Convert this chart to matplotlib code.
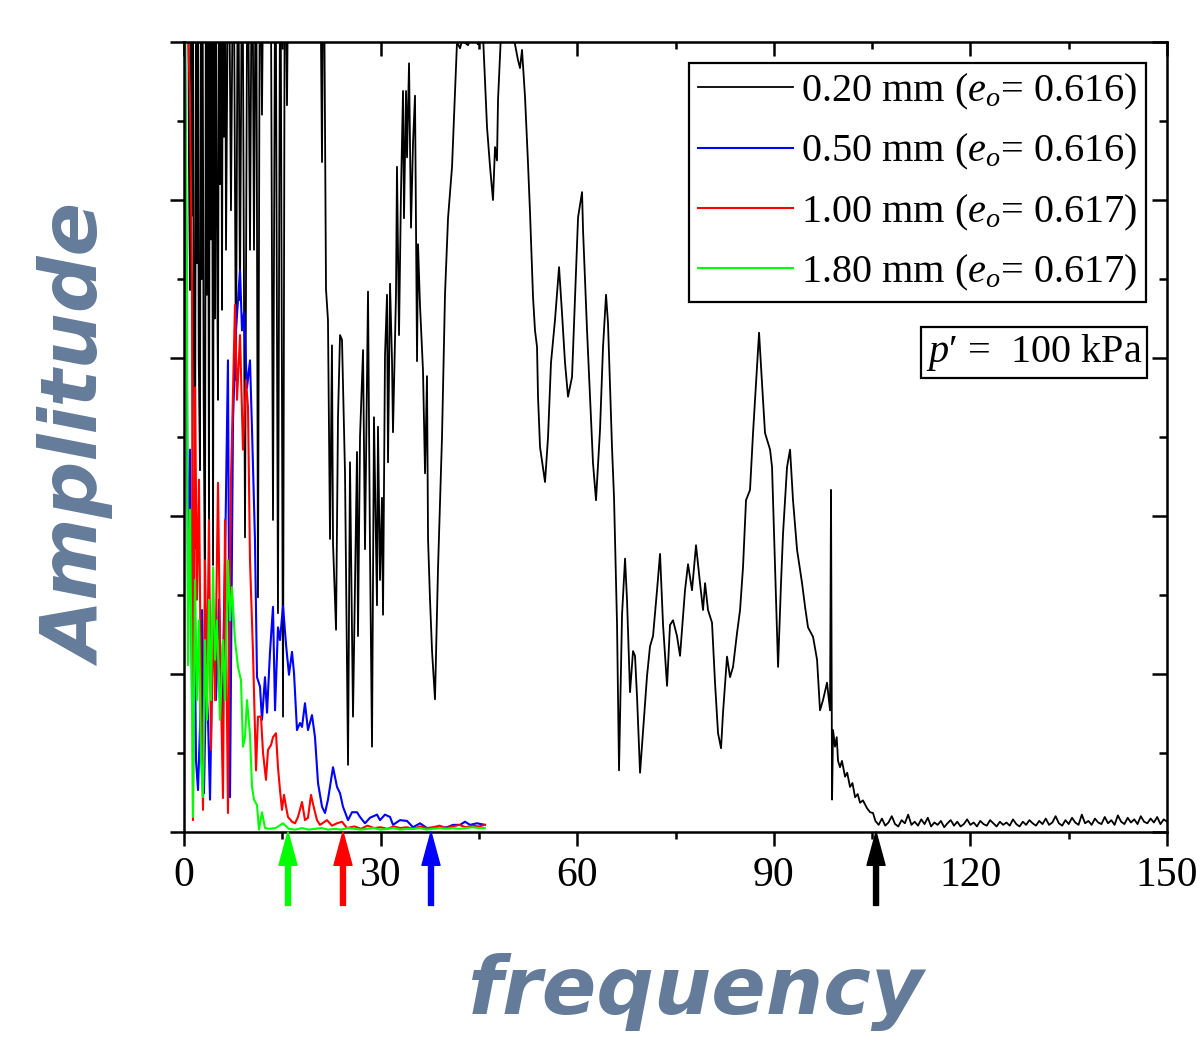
import numpy as np
import matplotlib
matplotlib.use("Agg")
import matplotlib.pyplot as plt
from matplotlib.ticker import MultipleLocator

plt.rcParams['font.family'] = ['Liberation Serif', 'DejaVu Serif']
plt.rcParams['mathtext.fontset'] = 'custom'
plt.rcParams['mathtext.rm'] = 'Liberation Serif'
plt.rcParams['mathtext.it'] = 'Liberation Serif:italic'

# ---- data (frequency in Hz, amplitude in arbitrary units, top of axis = 10) ----
TOP = 12  # spikes that leave the plot

f_black = [0.6, 0.75, 0.92, 1.1, 1.2, 1.3, 1.5, 1.68, 1.85, 2.0, 2.1, 2.25, 2.44, 2.6, 2.7, 2.8,
           3.0, 3.20, 3.35, 3.5, 3.65, 3.81, 3.95, 4.1, 4.25, 4.43, 4.6, 4.7, 4.8, 5.0, 5.19,
           5.35, 5.5, 5.65, 5.80, 5.95, 6.1, 6.25, 6.41, 6.8, 7.17, 7.55, 7.93, 8.25, 8.54, 8.9,
           9.31, 9.7, 10.07, 10.4, 10.68, 11.0,
           11.29, 11.6, 11.90, 12.2, 13.2, 13.58, 13.95, 14.34, 14.7, 15.11, 15.4, 15.72, 16.0,
           20.7, 21.06, 21.29, 21.67, 21.97, 22.28, 22.58, 22.74, 23.20, 23.50, 23.81, 24.11, 24.57,
           25.03, 25.33, 25.79, 26.40, 26.55, 26.86, 27.32, 27.62, 28.08, 28.38, 28.69, 28.99, 29.45,
           29.60, 29.91, 30.21, 30.37, 30.67, 30.98, 31.13, 31.44, 31.74, 31.89, 32.35, 32.50, 32.81,
           33.11, 33.42, 33.57, 33.88, 34.03, 34.34, 34.64, 34.95, 35.25, 35.56, 35.71, 36.01, 36.47,
           36.78, 37.08, 37.24, 37.54, 37.85, 38.30, 38.76, 39.37, 39.83, 40.29, 40.90, 41.36, 41.66,
           42.12, 42.42, 43.34, 43.95, 44.86, 45.63, 46.24, 46.70, 47.15, 47.46, 47.76, 47.92, 48.37,
           49.75, 50.97, 51.27, 51.58, 52.04, 52.49, 52.80, 53.26, 53.56, 53.87, 54.02, 54.33, 55.09,
           55.55, 56.00, 56.61, 57.23, 57.68, 58.14, 58.60, 59.21, 59.67, 60.13, 60.74, 60.89, 61.50,
           61.96, 62.41, 62.87, 63.48, 63.94, 64.40, 64.70, 65.31, 65.62, 66.08, 66.38, 66.84, 67.30,
           67.60, 68.06, 68.52, 68.82, 69.13, 69.59, 70.04, 70.65, 71.11, 71.57, 72.18, 72.64, 73.10,
           73.71, 74.16, 74.62, 75.23, 75.69, 76.45, 76.91, 77.52, 78.13, 78.74, 79.20, 79.51, 79.96,
           80.57, 81.03, 81.49, 81.95, 82.25, 82.86, 83.32, 83.78, 84.39, 84.85, 85.30, 85.76, 86.37,
           86.83, 87.29, 87.75, 88.20, 88.66, 89.43, 89.73, 90.19, 90.65, 91.10, 91.41, 92.02, 92.48,
           92.93, 93.55, 94.31, 94.77, 95.22, 95.99, 96.60, 97.05, 97.51, 98.12, 98.58, 98.73, 98.89,
           99.04, 99.34, 99.6, 99.8, 100.1, 100.4, 100.87, 101.2, 101.63, 102.0, 102.4, 102.8, 103.16,
           103.6, 104.23, 104.7, 105.14]
a_black = [TOP, 8.5, 6.86, TOP, 7.8, TOP, 6.5, 3.59, TOP, 7.2, TOP, 6.0, 4.58, TOP, 7.0, TOP,
           5.5, 2.81, TOP, 6.8, TOP, 3.70, TOP, 7.5, TOP, 3.38, TOP, 6.5, TOP, 8.0, 5.47,
           TOP, 8.2, TOP, 6.61, TOP, 8.8, TOP, 7.37, TOP, 7.87, TOP, 5.72, TOP, 6.73, TOP,
           3.73, TOP, 7.37, TOP, 7.37, TOP,
           2.97, TOP, 9.08, TOP, TOP, 3.95, TOP, 2.77, TOP, 1.46, TOP, 9.20, TOP,
           TOP, 8.48, TOP, 6.87, 6.48, 3.71, 6.16, 3.65, 2.56, 5.25, 6.29, 6.23, 4.54,
           0.85, 4.68, 1.46, 4.81, 2.48, 5.00, 6.10, 3.58, 6.84, 3.58, 1.08, 5.25, 2.87,
           5.13, 3.19, 4.23, 2.75, 6.03, 6.80, 4.68, 6.94, 5.97, 5.06, 6.81, 8.42, 6.29,
           8.09, 9.38, 7.77, 9.38, 8.54, 9.73, 7.65, 8.73, 9.32, 5.96, 7.44, 6.67, 5.84,
           4.54, 5.77, 3.71, 2.94, 2.29, 1.68, 3.33, 5.00, 6.81, 7.77, 8.42, 9.38, 10.0,
           9.92, 10.02, 9.96, 10.1, 9.97, 10.08, 8.92, 8.42, 8.00, 8.67, 8.50, 9.27, 10.1,
           10.3, 9.77, 9.67, 9.90, 9.30, 8.47, 7.84, 6.77, 6.35, 6.14, 5.51, 4.87, 4.43,
           5.00, 5.94, 6.48, 7.15, 6.57, 5.94, 5.51, 5.76, 6.77, 7.78, 8.10, 7.62, 6.35,
           5.51, 4.67, 4.20, 5.09, 6.14, 6.80, 6.44, 4.87, 4.23, 2.62, 0.78, 2.75, 3.46,
           2.94, 1.77, 2.29, 2.23, 1.71, 0.75, 1.27, 1.97, 2.35, 2.48, 3.06, 3.52, 2.62,
           1.85, 2.62, 2.68, 2.48, 2.23, 3.06, 3.39, 3.06, 3.63, 3.15, 2.81, 3.15, 2.81,
           2.65, 1.89, 1.25, 1.06, 1.51, 2.22, 1.96, 2.09, 2.52, 2.81, 3.35, 4.20, 4.33,
           5.05, 5.68, 6.32, 5.68, 5.05, 4.84, 4.62, 3.35, 2.09, 3.15, 3.78, 4.62, 4.84,
           4.20, 3.57, 3.15, 2.85, 2.59, 2.47, 2.18, 1.54, 1.67, 1.89, 1.54, 4.33, 0.41,
           1.29, 1.08, 1.20, 0.90, 0.82, 0.90, 0.70, 0.75, 0.57, 0.62, 0.44, 0.48, 0.37,
           0.40, 0.30, 0.25, 0.24]

f_floor_black = np.arange(105.5, 150.01, 0.5)
a_floor_black = [0.14, 0.09, 0.17, 0.08, 0.12, 0.20, 0.10, 0.07, 0.15, 0.11,
                 0.22, 0.09, 0.13, 0.08, 0.16, 0.10, 0.18, 0.07, 0.12, 0.09,
                 0.14, 0.06, 0.11, 0.15, 0.08, 0.13, 0.07, 0.10, 0.16, 0.09,
                 0.12, 0.07, 0.14, 0.10, 0.08, 0.15, 0.11, 0.07, 0.13, 0.09,
                 0.12, 0.08, 0.16, 0.10, 0.07, 0.13, 0.09, 0.15, 0.11, 0.08,
                 0.14, 0.10, 0.17, 0.09, 0.12, 0.20, 0.11, 0.08, 0.15, 0.10,
                 0.18, 0.12, 0.09, 0.22, 0.11, 0.14, 0.09, 0.17, 0.12, 0.10,
                 0.19, 0.11, 0.15, 0.09, 0.21, 0.13, 0.10, 0.18, 0.12, 0.16,
                 0.10, 0.20, 0.13, 0.11, 0.17, 0.12, 0.19, 0.10, 0.16, 0.13]

f_blue = [0.0, 0.31, 0.61, 0.92, 1.22, 1.53, 1.83, 2.14, 2.44, 2.75, 3.05, 3.36, 3.66, 3.97, 4.43,
          4.88, 5.34, 5.80, 6.26, 6.71, 7.02, 7.48, 7.93, 8.55, 8.85, 9.16, 9.61, 10.07, 10.38,
          10.83, 11.14, 11.60, 11.90, 12.36, 12.67, 13.12, 13.58, 13.89, 14.34, 14.65, 15.11,
          15.57, 16.02, 16.48, 16.79, 17.24, 17.70, 18.01, 18.46, 18.92, 19.53, 19.99, 20.45,
          21.06, 21.52, 21.97, 22.74, 23.35, 23.81, 24.26, 25.03, 25.64, 26.40, 26.86, 27.62,
          28.38, 29.45, 29.91, 30.67, 31.44, 31.89, 32.96, 34.03, 34.95, 36.01, 37.08, 38.61,
          40.13, 41.05, 42.12, 42.88, 43.64, 44.71, 45.93]
a_blue = [TOP, 8.25, 2.94, 4.84, 1.67, 3.44, 0.91, 0.53, 1.33, 2.81, 0.49, 1.92, 1.46, 0.41, 2.68,
          1.67, 2.94, 1.46, 3.44, 5.97, 0.44, 5.22, 6.35, 7.11, 6.35, 6.58, 5.62, 5.97, 5.09,
          3.70, 1.96, 1.84, 1.42, 1.96, 1.51, 2.27, 2.85, 1.54, 2.59, 2.43, 2.86,
          2.37, 1.99, 2.28, 2.01, 1.29, 1.38, 1.33, 1.63, 1.29, 1.48, 1.20, 0.62,
          0.32, 0.24, 0.41, 0.82, 0.57, 0.49, 0.32, 0.15, 0.25, 0.25, 0.19, 0.11,
          0.18, 0.22, 0.15, 0.22, 0.19, 0.09, 0.15, 0.14, 0.06, 0.11, 0.05, 0.05,
          0.06, 0.09, 0.09, 0.13, 0.09, 0.11, 0.09]

f_red = [0.0, 0.92, 1.22, 1.37, 1.68, 1.98, 2.29, 2.59, 2.90, 3.20, 3.51, 3.81, 4.12, 4.43, 4.73,
         5.19, 5.49, 5.95, 6.26, 6.71, 7.17, 7.78, 8.09, 8.55, 9.00, 9.46, 9.77, 10.07, 10.53,
         10.99, 11.29, 11.75, 12.06, 12.51, 12.82, 13.28, 13.58, 14.04, 14.34, 14.65, 14.95,
         15.26, 15.57, 15.87, 16.48, 16.94, 17.40, 18.01, 18.46, 18.92, 19.38, 19.84, 20.30,
         20.75, 21.82, 22.58, 23.35, 24.11, 24.87, 26.0, 27.0, 28.0, 29.0, 30.0, 31.0, 32.0,
         33.0, 34.0, 35.0, 36.0, 37.0, 38.0, 39.0, 40.0, 41.0, 42.0, 43.0, 44.0, 45.0, 45.9]
a_red = [TOP, 9.27, 6.90, 0.15, 5.63, 2.94, 4.46, 1.67, 0.28, 3.44, 1.80, 3.95, 1.04, 2.94, 1.67,
         4.42, 2.43, 0.43, 3.95, 0.24, 4.46, 6.67, 5.47, 6.29, 4.84, 5.72, 5.37, 3.44, 2.27,
         0.78, 1.46, 1.46, 1.00, 0.66, 1.04, 1.10, 1.20, 1.25, 0.82, 0.53, 0.28,
         0.47, 0.32, 0.19, 0.13, 0.11, 0.19, 0.38, 0.15, 0.18, 0.47, 0.30, 0.15,
         0.09, 0.15, 0.08, 0.11, 0.13, 0.05, 0.07, 0.04, 0.08, 0.05, 0.06, 0.04, 0.07,
         0.05, 0.06, 0.04, 0.07, 0.05, 0.06, 0.08, 0.05, 0.07, 0.09, 0.06, 0.08, 0.07, 0.09]

f_green = [0.0, 0.46, 0.61, 0.92, 1.22, 1.37, 1.68, 1.98, 2.29, 2.59, 2.90, 3.20, 3.51, 3.81, 4.12,
           4.43, 4.73, 5.04, 5.49, 5.95, 6.26, 6.71, 7.02, 7.32, 7.78, 8.24, 8.70, 9.00, 9.31,
           9.61, 10.07, 10.38, 10.68, 11.14, 11.44, 11.90, 12.36, 13.0, 14.0, 15.1, 16.0, 17.0,
           18.0, 19.0, 20.0, 21.0, 22.0, 23.0, 24.0, 25.0, 26.0, 27.0, 28.0, 29.0, 30.0, 31.0,
           32.0, 33.0, 34.0, 35.0, 36.0, 37.0, 38.0, 39.0, 40.0, 41.0, 42.0, 43.0, 44.0, 45.0, 45.9]
a_green = [TOP, 6.73, 2.11, 4.08, 1.67, 0.19, 3.19, 1.67, 2.68, 0.91, 0.44, 2.43, 1.42, 2.94, 1.67,
           3.35, 2.18, 2.68, 1.42, 2.43, 1.67, 3.44, 2.68, 3.10, 2.43, 2.09, 1.92, 1.08, 1.20,
           1.67, 1.23, 0.57, 0.41, 0.34, 0.03, 0.25, 0.05, 0.04, 0.05, 0.11, 0.04, 0.03,
           0.05, 0.03, 0.04, 0.05, 0.03, 0.04, 0.03, 0.05, 0.04, 0.03, 0.04, 0.05, 0.03, 0.04,
           0.05, 0.03, 0.04, 0.04, 0.05, 0.03, 0.04, 0.05, 0.04, 0.05, 0.04, 0.05, 0.06, 0.05, 0.05]

labels = [r'0.20 mm ($e_o$= 0.616)', r'0.50 mm ($e_o$= 0.616)',
          r'1.00 mm ($e_o$= 0.617)', r'1.80 mm ($e_o$= 0.617)']
colors = ['black', '#0000FF', '#FF0000', '#00FF00']

arrow_freq = [15.87, 24.26, 37.69, 105.6]
arrow_color = ['#00FF00', '#FF0000', '#0000FF', 'black']

xticks = [0, 30, 60, 90, 120, 150]

# ---- figure ----
fig = plt.figure(figsize=(12.01, 10.37), dpi=100)
ax = fig.add_axes([0.1532, 0.1977, 0.8185, 0.7618])

ax.plot(list(f_black) + list(f_floor_black), list(a_black) + list(a_floor_black),
        color=colors[0], lw=1.3, label=labels[0])
ax.plot(f_blue, a_blue, color=colors[1], lw=1.5, label=labels[1])
ax.plot(f_red, a_red, color=colors[2], lw=1.5, label=labels[2])
ax.plot(f_green, a_green, color=colors[3], lw=1.5, label=labels[3])

ax.set_xlim(0, 150)
ax.set_ylim(0, 10)
ax.set_xticks(xticks)
ax.xaxis.set_minor_locator(MultipleLocator(15))
ax.yaxis.set_major_locator(MultipleLocator(2))
ax.yaxis.set_minor_locator(MultipleLocator(1))
ax.tick_params(which='both', direction='out', width=1.8, labelleft=False, labelsize=30, pad=8)
ax.tick_params(which='major', length=10)
ax.tick_params(which='minor', length=5)
for s in ax.spines.values():
    s.set_linewidth(1.8)

top = ax.secondary_xaxis('top')
top.set_xticks(xticks)
top.xaxis.set_minor_locator(MultipleLocator(15))
top.tick_params(which='both', direction='in', width=1.8, labeltop=False)
top.tick_params(which='major', length=10)
top.tick_params(which='minor', length=5)
right = ax.secondary_yaxis('right')
right.yaxis.set_major_locator(MultipleLocator(2))
right.yaxis.set_minor_locator(MultipleLocator(1))
right.tick_params(which='both', direction='in', width=1.8, labelright=False)
right.tick_params(which='major', length=11)
right.tick_params(which='minor', length=6)

leg = ax.legend(loc='upper right', bbox_to_anchor=(0.9786, 0.9734), fontsize=29,
                frameon=True, fancybox=False, edgecolor='black', framealpha=1,
                handlelength=2.35, handletextpad=0.2, labelspacing=0.5,
                borderpad=0.22, borderaxespad=0)
leg.get_frame().set_linewidth(1.6)

ax.text(0.9746, 0.607, "$p$\u2032 =  100 kPa", transform=ax.transAxes, fontsize=29,
        ha='right', va='center',
        bbox=dict(boxstyle='square,pad=0.12', fc='white', ec='black', lw=1.6))

for f, c in zip(arrow_freq, arrow_color):
    ax.annotate('', xy=(f, 0), xycoords=('data', 'axes fraction'),
                xytext=(f, -0.093), textcoords=('data', 'axes fraction'),
                arrowprops=dict(width=3.6, headwidth=13, headlength=24, color=c, shrink=0),
                annotation_clip=False)

lab_color = '#647B9A'
fig.text(0.580, 0.022, 'frequency', fontsize=58, fontweight='bold', style='italic',
         color=lab_color, family='DejaVu Sans', ha='center', va='baseline')
fig.text(0.067, 0.579, 'Amplitude', fontsize=57, fontweight='bold', style='italic',
         color=lab_color, family='DejaVu Sans', ha='center', va='center', rotation=90)

fig.savefig('out.png', dpi=100)
